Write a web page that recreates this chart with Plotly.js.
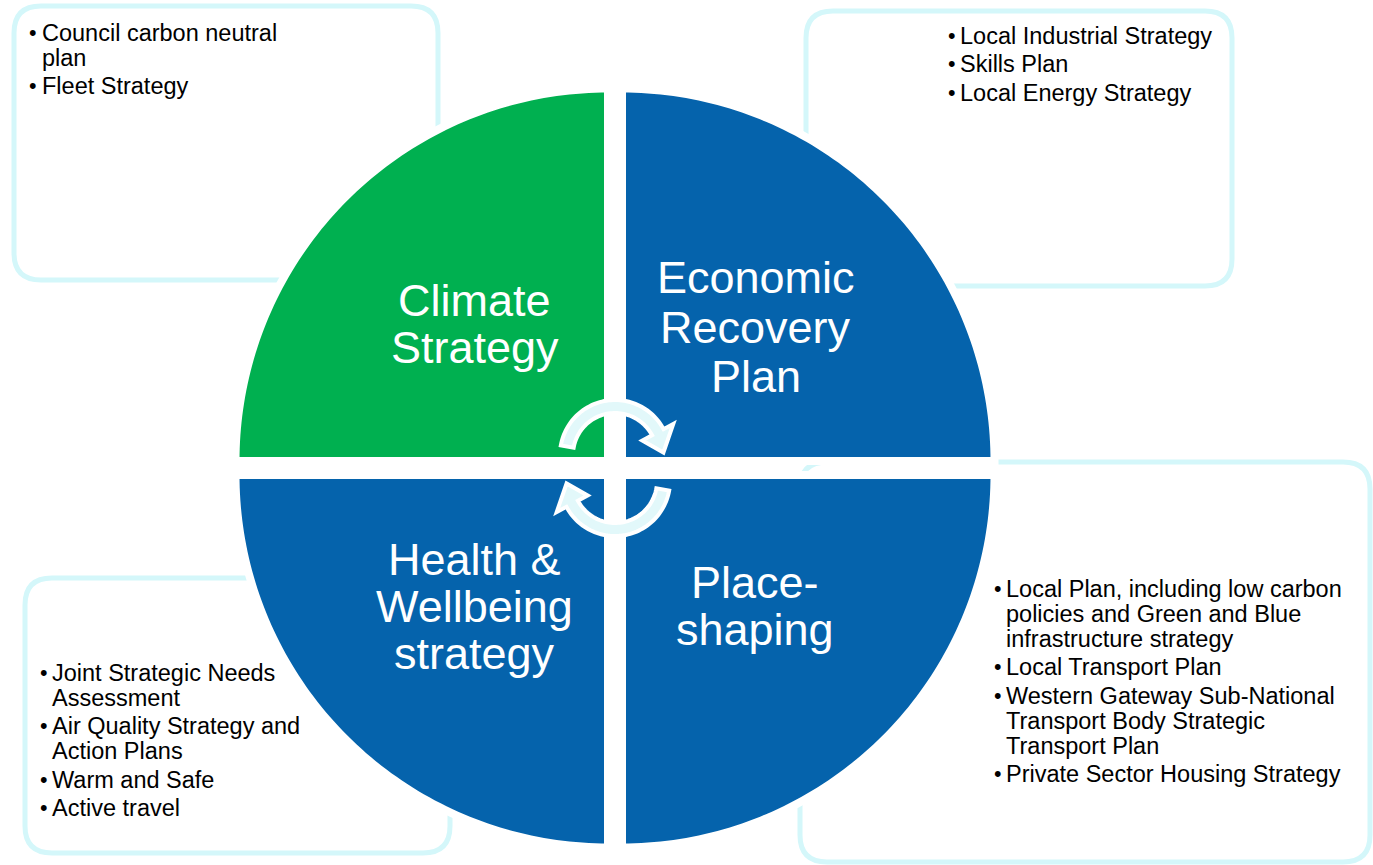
<!DOCTYPE html>
<html><head><meta charset="utf-8">
<script src="https://cdn.plot.ly/plotly-3.0.1.min.js"></script>
<style>html,body{margin:0;padding:0;background:#fff;overflow:hidden}#chart{width:1373px;height:865px}</style>
</head><body><div id="chart"></div>
<script>
// ---- content (text only) ----
const quadrantTitles = [
  ["Climate", "Strategy"],
  ["Economic", "Recovery", "Plan"],
  ["Health &", "Wellbeing", "strategy"],
  ["Place-", "shaping"]
];
const climateItems = [["Council carbon neutral", "plan"], ["Fleet Strategy"]];
const economicItems = [["Local Industrial Strategy"], ["Skills Plan"], ["Local Energy Strategy"]];
const healthItems = [["Joint Strategic Needs", "Assessment"], ["Air Quality Strategy and", "Action Plans"], ["Warm and Safe"], ["Active travel"]];
const placeItems = [
  ["Local Plan, including low carbon", "policies and Green and Blue", "infrastructure strategy"],
  ["Local Transport Plan"],
  ["Western Gateway Sub-National", "Transport Body Strategic", "Transport Plan"],
  ["Private Sector Housing Strategy"]
];

// ---- layout / style ----
const W = 1373, H = 865;
const FONT = "Liberation Sans, Arial, Helvetica, sans-serif";
const GREEN = "#00B050", BLUE = "#0563AC", BOXLINE = "#D4F7FA", ARROWFILL = "#E2F8FA";
const C = {x: 615, y: 468}, G = 11, R = 368.5, WL = 8;

const quadrantGeom = [
  {a0: 90, a1: 180, sx: -1, sy: -1, color: GREEN, lx: 474.5, base: [316, 363]},
  {a0: 0, a1: 90, sx: 1, sy: -1, color: BLUE, lx: 755.5, base: [293, 343, 392]},
  {a0: 180, a1: 270, sx: -1, sy: 1, color: BLUE, lx: 474, base: [575, 622, 669]},
  {a0: 270, a1: 360, sx: 1, sy: 1, color: BLUE, lx: 755, base: [598, 645]}
];
const boxGeom = [
  {items: climateItems, x0: 14, y0: 6, x1: 438, y1: 280, bx: 33, tx: 40, first: 41},
  {items: economicItems, x0: 806, y0: 11, x1: 1232, y1: 286, bx: 952, tx: 958, first: 44},
  {items: healthItems, x0: 25, y0: 578, x1: 450, y1: 853, bx: 44, tx: 50, first: 681},
  {items: placeItems, x0: 800, y0: 462, x1: 1370, y1: 862, bx: 997.5, tx: 1003.5, first: 597}
];
const WRAP = 25, PARA = 28.5, BOXFONT = 23.5, TITLEFONT = 45, BOXR = 27;

function d2r(a) { return a * Math.PI / 180; }
function toPath(pts) { return "M" + pts.map(p => p[0].toFixed(2) + "," + p[1].toFixed(2)).join("L") + "Z"; }
function arc(cx, cy, r, a0, a1, n) {
  const pts = [];
  for (let i = 0; i <= n; i++) {
    const a = d2r(a0 + (a1 - a0) * i / n);
    pts.push([cx + r * Math.cos(a), cy - r * Math.sin(a)]);
  }
  return pts;
}
function roundRect(x0, y0, x1, y1, r) {
  return `M${x0 + r},${y0}L${x1 - r},${y0}Q${x1},${y0} ${x1},${y0 + r}L${x1},${y1 - r}Q${x1},${y1} ${x1 - r},${y1}L${x0 + r},${y1}Q${x0},${y1} ${x0},${y1 - r}L${x0},${y0 + r}Q${x0},${y0} ${x0 + r},${y0}Z`;
}

const shapes = [];
const annotations = [];

// boxes
boxGeom.forEach(b => {
  shapes.push({type: "path", path: roundRect(b.x0, b.y0, b.x1, b.y1, BOXR), xref: "x", yref: "y",
    line: {color: BOXLINE, width: 5}, fillcolor: "rgba(0,0,0,0)"});
  let y = b.first;
  b.items.forEach((item, i) => {
    if (i > 0) y += PARA;
    annotations.push({x: b.bx, y: y - 0.35 * BOXFONT, text: "•", xanchor: "center", yanchor: "middle",
      showarrow: false, font: {family: FONT, size: BOXFONT - 2, color: "#000"}});
    item.forEach((line, j) => {
      if (j > 0) y += WRAP;
      annotations.push({x: b.tx, y: y - 0.35 * BOXFONT, text: line, xanchor: "left", yanchor: "middle",
        showarrow: false, font: {family: FONT, size: BOXFONT, color: "#000"}});
    });
  });
});

// quadrants
quadrantGeom.forEach((q, i) => {
  const cx = C.x + q.sx * (G - WL / 2), cy = C.y + q.sy * (G - WL / 2);
  const pts = [[cx, cy]].concat(arc(cx, cy, R + WL / 2, q.a0, q.a1, 90));
  shapes.push({type: "path", path: toPath(pts), xref: "x", yref: "y", fillcolor: q.color,
    line: {color: "#FFFFFF", width: WL}});
  quadrantTitles[i].forEach((t, j) => {
    annotations.push({x: q.lx, y: q.base[j] - 0.35 * TITLEFONT, text: t, xanchor: "center", yanchor: "middle",
      showarrow: false, font: {family: FONT, size: TITLEFONT, color: "#FFFFFF"}});
  });
});

// circular arrows
function arrowPath(cx, cy, rot) {
  const ri = 42, ro = 55, wi = 31, wo = 66, rt = 48.5;
  const s = 170 + rot, b = 28 + rot, t = 3 + rot;
  const outer = arc(cx, cy, ro, s, b, 60);
  const inner = arc(cx, cy, ri, b, s, 60);
  const p = a => d2r(a);
  const wing = (r) => [cx + r * Math.cos(p(b)), cy - r * Math.sin(p(b))];
  const tip = [cx + rt * Math.cos(p(t)), cy - rt * Math.sin(p(t))];
  return toPath(outer.concat([wing(wo), tip, wing(wi)], inner));
}
shapes.push({type: "path", path: arrowPath(C.x, C.y - 13, 0), xref: "x", yref: "y", fillcolor: ARROWFILL,
  line: {color: "#FFFFFF", width: 4}});
shapes.push({type: "path", path: arrowPath(C.x, C.y + 13, 180), xref: "x", yref: "y", fillcolor: ARROWFILL,
  line: {color: "#FFFFFF", width: 4}});

const layout = {
  width: W, height: H,
  margin: {l: 0, r: 0, t: 0, b: 0, pad: 0},
  paper_bgcolor: "#FFFFFF", plot_bgcolor: "#FFFFFF",
  xaxis: {range: [0, W], visible: false, fixedrange: true},
  yaxis: {range: [H, 0], visible: false, fixedrange: true},
  showlegend: false,
  shapes: shapes,
  annotations: annotations
};
Plotly.newPlot("chart", [], layout, {displayModeBar: false, staticPlot: true});
</script></body></html>
